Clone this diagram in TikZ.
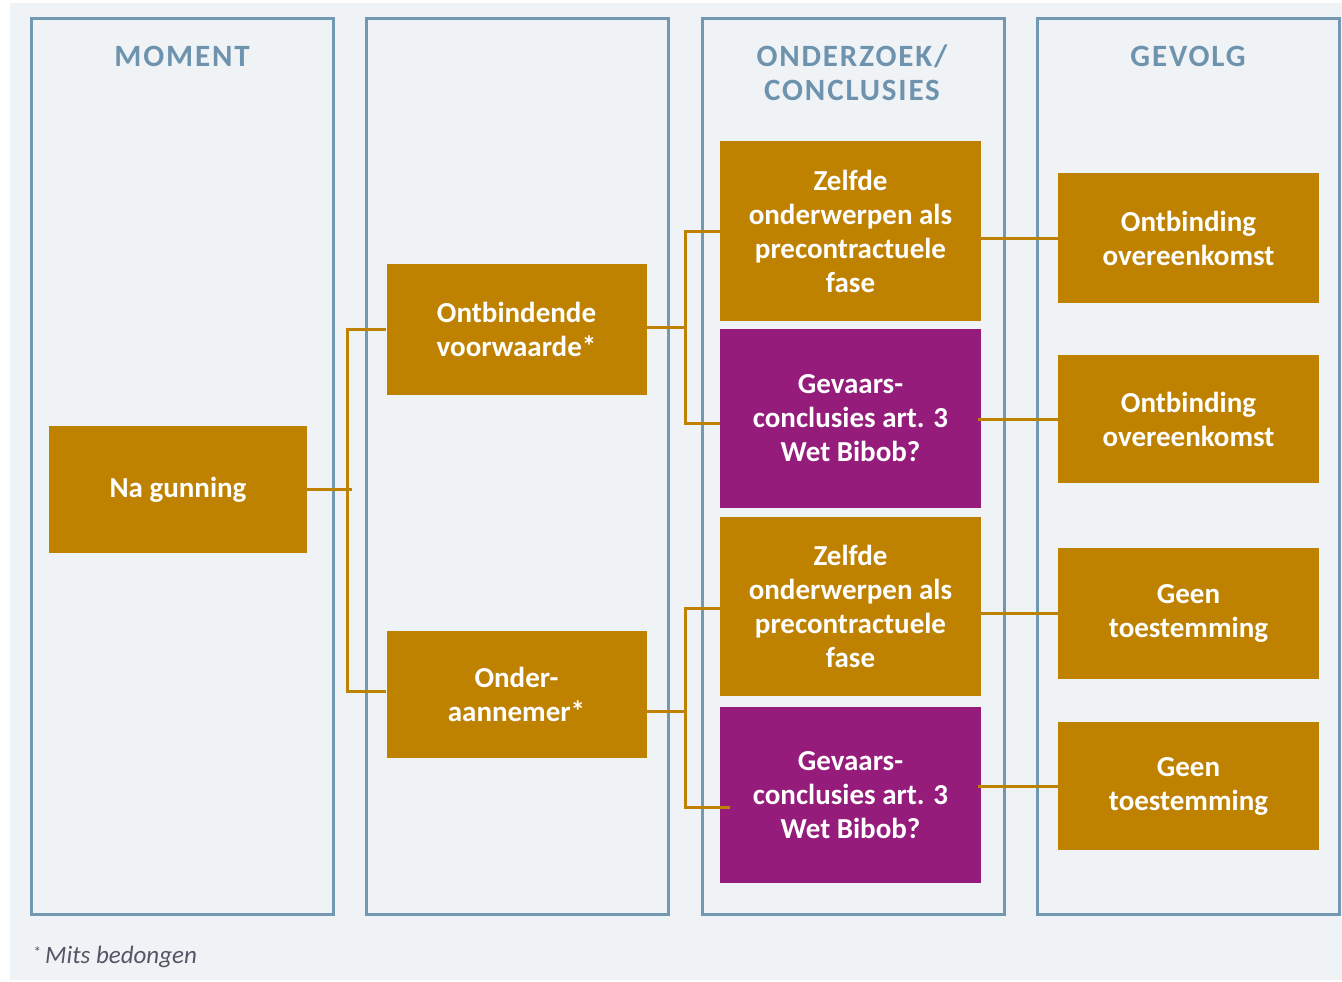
\documentclass[tikz,border=0pt]{standalone}
\usepackage{fontspec}
\setmainfont{Carlito}
\newfontfamily\headfont[LetterSpace=6]{Carlito}
\usetikzlibrary{positioning}
\definecolor{goud}{RGB}{191,130,0}
\definecolor{paars}{RGB}{149,28,123}
\definecolor{kader}{RGB}{115,153,178}
\definecolor{achtergrond}{RGB}{240,243,246}
\definecolor{kop}{RGB}{110,147,174}
\definecolor{voet}{RGB}{85,85,100}

\begin{document}
\begin{tikzpicture}[x=1pt,y=-1pt,
    kolom/.style={draw=kader,line width=3pt,minimum width=302pt,minimum height=896pt,inner sep=0pt},
    kopje/.style={text=kop,font=\headfont\bfseries\fontsize{31}{34}\selectfont,align=center},
    blok/.style={fill=goud,text=white,inner sep=0pt,minimum width=260pt,align=center,
                 font=\bfseries\fontsize{29}{34}\selectfont},
    gevaar/.style={blok,fill=paars},
    lijn/.style={draw=goud,line width=3pt}]

  \useasboundingbox (0,0) rectangle (1342,982);
  \fill[achtergrond] (10,3) rectangle (1342,980);

  % kolommen
  \node[kolom] (k1) at (182.5,466.5) {};
  \node[kolom] (k2) at (517.5,466.5) {};
  \node[kolom] (k3) at (853.5,466.5) {};
  \node[kolom] (k4) at (1188.5,466.5) {};

  \node[kopje] (moment) at (182,56) {MOMENT};
  \node[kopje] (onderzoek) at (852,73) {ONDERZOEK/\\CONCLUSIES};
  \node[kopje] (gevolg) at (1188,56) {GEVOLG};

  % blokken
  \node[blok,minimum width=258pt,minimum height=127pt] (gunning) at (178,489.5) {Na gunning};
  \node[blok,minimum height=131pt] (ontbindend) at (516.5,329.5) {Ontbindende\\voorwaarde*};
  \node[blok,minimum height=127pt] (onder) at (516.5,694.5) {Onder-\\aannemer*};

  \node[blok,minimum width=261pt,minimum height=180pt] (zelfde1) at (850.5,231) {Zelfde\\onderwerpen als\\precontractuele\\fase};
  \node[gevaar,minimum width=261pt,minimum height=179pt] (gevaars1) at (850.5,418.5) {Gevaars-\\conclusies art. 3\\Wet Bibob?};
  \node[blok,minimum width=261pt,minimum height=179pt] (zelfde2) at (850.5,606.5) {Zelfde\\onderwerpen als\\precontractuele\\fase};
  \node[gevaar,minimum width=261pt,minimum height=176pt] (gevaars2) at (850.5,795) {Gevaars-\\conclusies art. 3\\Wet Bibob?};

  \node[blok,minimum width=261pt,minimum height=130pt] (ontbinding1) at (1188.5,238) {Ontbinding\\overeenkomst};
  \node[blok,minimum width=261pt,minimum height=128pt] (ontbinding2) at (1188.5,419) {Ontbinding\\overeenkomst};
  \node[blok,minimum width=261pt,minimum height=131pt] (geen1) at (1188.5,613.5) {Geen\\toestemming};
  \node[blok,minimum width=261pt,minimum height=128pt] (geen2) at (1188.5,786) {Geen\\toestemming};

  % verbindingen
  \draw[lijn] (gunning.east) -- ++(45,0);
  \draw[lijn] (ontbindend.west) -- ++(-39,0) |- ([yshift=3pt]onder.west);
  \draw[lijn] ([yshift=2pt]ontbindend.east) -- ++(40,0);
  \draw[lijn] (zelfde1.west) -- ++(-34,0) |- ([yshift=-5pt]gevaars1.west);
  \draw[lijn] ([yshift=-17pt]onder.east) -- ++(40,0);
  \draw[lijn] ([yshift=-2pt]zelfde2.west) -- ++(-34,0) |- ([xshift=10pt,yshift=-12pt]gevaars2.west);

  \draw[lijn] (ontbinding1.west) -- (ontbinding1.west -| zelfde1.east);
  \draw[lijn] (ontbinding2.west) -- ([xshift=-3pt]ontbinding2.west -| gevaars1.east);
  \draw[lijn] (geen1.west) -- (geen1.west -| zelfde2.east);
  \draw[lijn] (geen2.west) -- ([xshift=-3pt]geen2.west -| gevaars2.east);

  \node[anchor=west,text=voet,font=\fontsize{25}{28}\selectfont] (voetnoot) at (30,957)
    {\raisebox{6pt}{\fontsize{15}{15}\selectfont*}\,\textit{Mits bedongen}};
\end{tikzpicture}
\end{document}
